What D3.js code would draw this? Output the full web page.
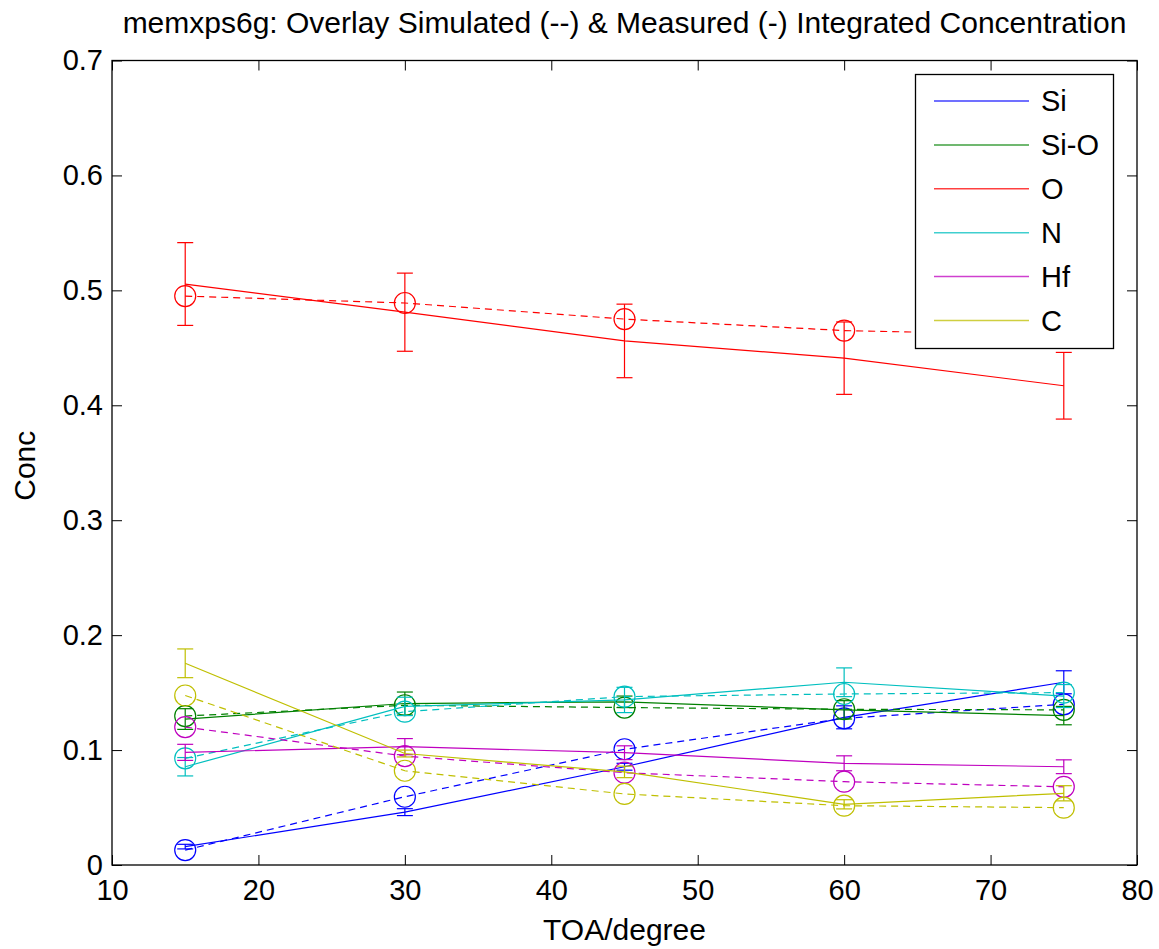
<!DOCTYPE html>
<html>
<head>
<meta charset="utf-8">
<script src="https://cdn.jsdelivr.net/npm/d3@7"></script>
<style>
  html, body { margin: 0; padding: 0; background: #fff; }
  svg text { font-family: "Liberation Sans", Arial, Helvetica, sans-serif; fill: #000; }
</style>
</head>
<body>
<svg id="chart" width="1159" height="949"></svg>
<script>
// Take-off angles (degrees)
const toa = [15, 30, 45, 60, 75];

// Element names and plot colours
const elements = ["Si", "Si-O", "O", "N", "Hf", "C"];
const colors = ["#0000ff", "#008000", "#ff0000", "#00bfbf", "#bf00bf", "#bfbf00"];

// Measured integrated concentration (solid lines, with error bars)
const measSi  = [0.016, 0.046, 0.0855, 0.1285, 0.159];
const measSiO = [0.127, 0.1405, 0.142, 0.135, 0.130];
const measO   = [0.5055, 0.481, 0.456, 0.441, 0.417];
const measN   = [0.0855, 0.138, 0.1436, 0.159, 0.147];
const measHf  = [0.098, 0.103, 0.0977, 0.0885, 0.0855];
const measC   = [0.1755, 0.097, 0.081, 0.0528, 0.0624];

// Measurement uncertainty (half-height of each error bar)
const errSi  = [0.002, 0.003, 0.003, 0.010, 0.010];
const errSiO = [0.009, 0.010, 0.005, 0.008, 0.008];
const errO   = [0.036, 0.034, 0.032, 0.0315, 0.029];
const errN   = [0.008, 0.008, 0.011, 0.0125, 0.010];
const errHf  = [0.007, 0.007, 0.006, 0.0065, 0.006];
const errC   = [0.0125, 0.003, 0.005, 0.004, 0.0066];

// Simulated integrated concentration (dashed lines, circle markers)
const simSi  = [0.013, 0.0594, 0.1007, 0.1276, 0.1398];
const simSiO = [0.1296, 0.139, 0.137, 0.1355, 0.135];
const simO   = [0.495, 0.489, 0.475, 0.465, 0.461];
const simN   = [0.0928, 0.1334, 0.1465, 0.1488, 0.150];
const simHf  = [0.120, 0.0948, 0.0803, 0.0725, 0.068];
const simC   = [0.1475, 0.082, 0.0618, 0.0516, 0.0499];

// Axis ticks
const xTicks = [10, 20, 30, 40, 50, 60, 70, 80];
const yTicks = [0, 0.1, 0.2, 0.3, 0.4, 0.5, 0.6, 0.7];

const titleText = "memxps6g: Overlay Simulated (--) & Measured (-) Integrated Concentration";
const xLabel = "TOA/degree";
const yLabel = "Conc";

const measured = [measSi, measSiO, measO, measN, measHf, measC];
const errors = [errSi, errSiO, errO, errN, errHf, errC];
const simulated = [simSi, simSiO, simO, simN, simHf, simC];

const series = elements.map((name, i) => ({
  name,
  color: colors[i],
  meas: toa.map((t, j) => ({ x: t, y: measured[i][j], e: errors[i][j] })),
  sim: toa.map((t, j) => ({ x: t, y: simulated[i][j] }))
}));

const svg = d3.select("#chart");
const L = 112, R = 1137, T = 60.5, B = 865;

const x = d3.scaleLinear().domain([10, 80]).range([L, R]);
const y = d3.scaleLinear().domain([0, 0.7]).range([B, T]);

const plot = svg.append("g");
const clipId = "plot-clip";
svg.append("defs").append("clipPath").attr("id", clipId)
  .append("rect").attr("x", L).attr("y", T).attr("width", R - L).attr("height", B - T);

const line = d3.line().x(d => x(d.x)).y(d => y(d.y));
const capW = 8;

series.forEach(s => {
  const g = plot.append("g").attr("clip-path", `url(#${clipId})`);
  // measured: solid line
  g.append("path").datum(s.meas)
    .attr("d", line).attr("fill", "none")
    .attr("stroke", s.color).attr("stroke-width", 1.2);
  // error bars
  const eb = g.selectAll(null).data(s.meas).enter().append("g");
  eb.append("line")
    .attr("x1", d => x(d.x)).attr("x2", d => x(d.x))
    .attr("y1", d => y(d.y - d.e)).attr("y2", d => y(d.y + d.e))
    .attr("stroke", s.color).attr("stroke-width", 1.2);
  eb.append("line")
    .attr("x1", d => x(d.x) - capW).attr("x2", d => x(d.x) + capW)
    .attr("y1", d => y(d.y + d.e)).attr("y2", d => y(d.y + d.e))
    .attr("stroke", s.color).attr("stroke-width", 1.2);
  eb.append("line")
    .attr("x1", d => x(d.x) - capW).attr("x2", d => x(d.x) + capW)
    .attr("y1", d => y(d.y - d.e)).attr("y2", d => y(d.y - d.e))
    .attr("stroke", s.color).attr("stroke-width", 1.2);
  // simulated: dashed line with open circles
  g.append("path").datum(s.sim)
    .attr("d", line).attr("fill", "none")
    .attr("stroke", s.color).attr("stroke-width", 1.2)
    .attr("stroke-dasharray", "7,5");
  g.selectAll(null).data(s.sim).enter().append("circle")
    .attr("cx", d => x(d.x)).attr("cy", d => y(d.y)).attr("r", 10.5)
    .attr("fill", "none").attr("stroke", s.color).attr("stroke-width", 1.2);
});

// Axes box with inward ticks on all four sides
const tickLen = 10;
const axG = svg.append("g");
axG.append("rect").attr("x", L).attr("y", T).attr("width", R - L).attr("height", B - T)
  .attr("fill", "none").attr("stroke", "#000").attr("stroke-width", 1.3);

const xBottom = d3.axisBottom(x).tickValues(xTicks).tickSize(-tickLen).tickPadding(14)
  .tickFormat(d3.format("d"));
const xTop = d3.axisTop(x).tickValues(xTicks).tickSize(-tickLen).tickFormat("");
const yLeft = d3.axisLeft(y).tickValues(yTicks).tickSize(-tickLen).tickPadding(9)
  .tickFormat(d => d === 0 ? "0" : d3.format(".1f")(d));
const yRight = d3.axisRight(y).tickValues(yTicks).tickSize(-tickLen).tickFormat("");

function styleAxis(g) {
  g.select(".domain").remove();
  g.selectAll(".tick line").attr("stroke", "#000").attr("stroke-width", 1);
  g.selectAll(".tick text").attr("font-size", 29).attr("font-family", "Liberation Sans, Arial, sans-serif");
}
axG.append("g").attr("transform", `translate(0,${B})`).call(xBottom).call(styleAxis);
axG.append("g").attr("transform", `translate(0,${T})`).call(xTop).call(styleAxis);
axG.append("g").attr("transform", `translate(${L},0)`).call(yLeft).call(styleAxis);
axG.append("g").attr("transform", `translate(${R},0)`).call(yRight).call(styleAxis);

// Title and axis labels
svg.append("text").attr("x", (L + R) / 2).attr("y", 33)
  .attr("text-anchor", "middle").attr("font-size", 30).text(titleText);
svg.append("text").attr("x", (L + R) / 2).attr("y", 940)
  .attr("text-anchor", "middle").attr("font-size", 30).text(xLabel);
svg.append("text").attr("transform", `translate(35,${(T + B) / 2 + 3}) rotate(-90)`)
  .attr("text-anchor", "middle").attr("font-size", 30).text(yLabel);

// Legend
const legX = 915.5, legY = 74.5, legW = 198, legH = 274;
const leg = svg.append("g");
leg.append("rect").attr("x", legX).attr("y", legY).attr("width", legW).attr("height", legH)
  .attr("fill", "#fff").attr("stroke", "#000").attr("stroke-width", 1.3);
const rowY = d3.scalePoint().domain(elements).range([101, 320.5]);
const rows = leg.selectAll(null).data(series).enter().append("g");
rows.append("line")
  .attr("x1", 934).attr("x2", 1029)
  .attr("y1", d => rowY(d.name)).attr("y2", d => rowY(d.name))
  .attr("stroke", d => d.color).attr("stroke-width", 1.5).attr("stroke-opacity", 0.75);
rows.append("text")
  .attr("x", 1041).attr("y", d => rowY(d.name)).attr("dy", "0.36em")
  .attr("font-size", 29).text(d => d.name);
</script>
</body>
</html>
